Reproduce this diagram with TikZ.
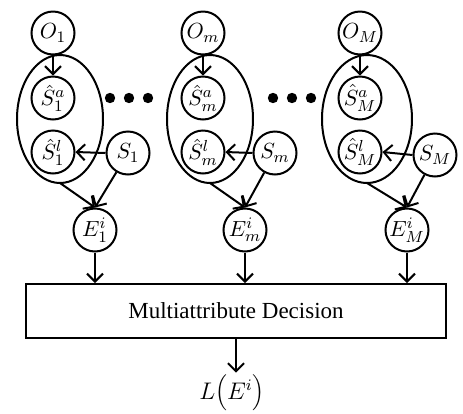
\documentclass[tikz,border=0pt]{standalone}
\usepackage{fontspec}
\setmainfont{Liberation Serif}
\usepackage{tikz}
\usetikzlibrary{shapes.geometric, arrows.meta, positioning, calc}

\tikzset{
    var/.style={circle, draw, line width=1pt, minimum size=21.5pt, inner sep=0pt, font=\fontsize{11}{13}\selectfont},
    arr/.style={line width=1pt, -{Straight Barb[length=4pt, width=8pt, line width=1pt]}}
}

\begin{document}
\begin{tikzpicture}[x=0.5pt, y=-0.5pt]
    \useasboundingbox (0,0) rectangle (463,414);

    % First attribute
    \node[var] (o1) at (53,33) {$O_1$};
    \node[var] (sa1) at (53,98) {$\hat{S}_1^a$};
    \node[var] (sl1) at (53,152) {$\hat{S}_1^l$};
    \node[var] (s1) at (128,153) {$S_1$};
    \node[var] (e1) at (95,230) {$E_1^i$};
    \draw[line width=1pt] (60,119) ellipse (43 and 64);
    \coordinate (g1) at (60,183);

    % m-th attribute
    \node[var] (om) at (203,33) {$O_m$};
    \node[var] (sam) at (203,98) {$\hat{S}_m^a$};
    \node[var] (slm) at (203,152) {$\hat{S}_m^l$};
    \node[var] (sm) at (275,153) {$S_m$};
    \node[var] (em) at (245,230) {$E_m^i$};
    \draw[line width=1pt] (210,119) ellipse (43 and 64);
    \coordinate (gm) at (210,183);

    % M-th attribute
    \node[var] (oM) at (360,33) {$O_M$};
    \node[var] (saM) at (360,98) {$\hat{S}_M^a$};
    \node[var] (slM) at (360,152) {$\hat{S}_M^l$};
    \node[var] (sM) at (435,155) {$S_M$};
    \node[var] (eM) at (407,230) {$E_M^i$};
    \draw[line width=1pt] (367,119) ellipse (45 and 64);
    \coordinate (gM) at (367,183);

    % Dots
    \fill (110,98) circle (2.6pt) (129,98) circle (2.6pt) (148,98) circle (2.6pt);
    \fill (273,98) circle (2.6pt) (292,98) circle (2.6pt) (311,98) circle (2.6pt);

    % Decision box and output
    \node[draw, line width=1pt, minimum width=210pt, minimum height=27pt, font=\fontsize{11.5}{13}\selectfont] (box) at (236,311) {Multiattribute Decision};
    \node[inner sep=1pt, font=\fontsize{11.5}{13}\selectfont] (loss) at (232,393) {$L\Bigl(E^{i}\Bigr)$};

    % Edges
    \draw[arr] (o1.south) -- (sa1.north);
    \draw[arr] (s1.west) -- (sl1.east);
    \draw[arr] (g1) -- (e1.north);
    \draw[arr] (s1) -- (e1.north);
    \draw[arr] (e1.south) -- (e1.south |- box.north);

    \draw[arr] (om.south) -- (sam.north);
    \draw[arr] (sm.west) -- (slm.east);
    \draw[arr] (gm) -- (em.north);
    \draw[arr] (sm) -- (em.north);
    \draw[arr] (em.south) -- (em.south |- box.north);

    \draw[arr] (oM.south) -- (saM.north);
    \draw[arr] (sM.west) -- (slM.east);
    \draw[arr] (gM) -- (eM.north);
    \draw[arr] (sM) -- (eM.north);
    \draw[arr] (eM.south) -- (eM.south |- box.north);

    \draw[arr] (box.south) -- (box.south |- loss.north);
\end{tikzpicture}
\end{document}
